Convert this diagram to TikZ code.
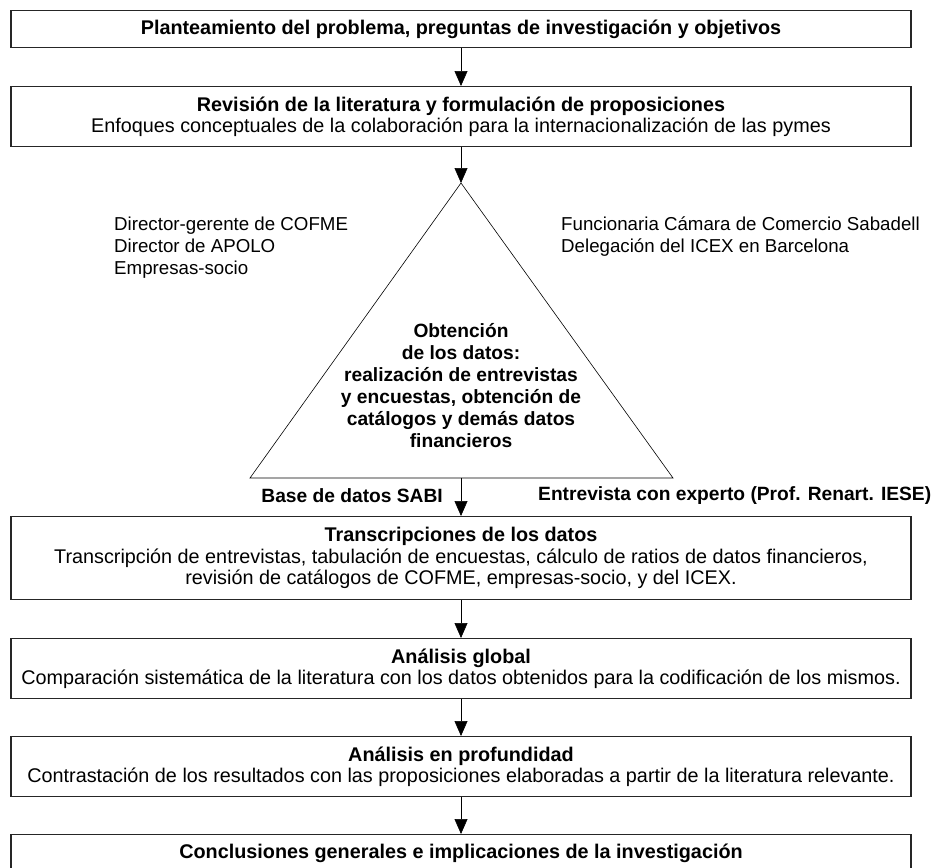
\documentclass[tikz,border=0pt]{standalone}
\usepackage{fontspec}
\setmainfont{Liberation Sans}
\usetikzlibrary{arrows.meta}
\begin{document}
\begin{tikzpicture}[x=1pt,y=-1pt,
  every node/.style={font=\fontsize{19.8}{21.5}\selectfont, inner sep=0pt},
  box/.style={draw=black!85, line width=1.1pt, minimum width=900pt, align=center, anchor=north},
  conn/.style={line width=0.6pt, -{Triangle[length=15pt,width=13pt]}},
  side/.style={align=left, anchor=north west, font=\fontsize{18.7}{22}\selectfont},
  lab/.style={font=\bfseries\fontsize{19.2}{22}\selectfont}]
\useasboundingbox (0,0) rectangle (933,867);
\clip (0,0) rectangle (933,867);
% boxes
\node[box, minimum height=37pt] (b1) at (461,10) {\textbf{Planteamiento del problema, preguntas de investigación y objetivos}};
\node[box, minimum height=60pt] (b2) at (461,86) {\textbf{Revisión de la literatura y formulación de proposiciones}\\Enfoques conceptuales de la colaboración para la internacionalización de las pymes};
\node[box, minimum height=83pt] (b3) at (461,516) {\textbf{Transcripciones de los datos}\\Transcripción de entrevistas, tabulación de encuestas, cálculo de ratios de datos financieros,\\revisión de catálogos de COFME, empresas-socio, y del ICEX.};
\node[box, minimum height=60pt] (b4) at (461,638) {\textbf{Análisis global}\\Comparación sistemática de la literatura con los datos obtenidos para la codificación de los mismos.};
\node[box, minimum height=60pt] (b5) at (461,736) {\textbf{Análisis en profundidad}\\Contrastación de los resultados con las proposiciones elaboradas a partir de la literatura relevante.};
\node[box, minimum height=37pt] (b6) at (461,834) {\textbf{Conclusiones generales e implicaciones de la investigación}};
% triangle
\coordinate (apex) at (461,183);
\coordinate (bl) at (250,478);
\coordinate (br) at (673,478);
\coordinate (bm) at (461,478);
\draw[line width=0.6pt] (apex) -- (bl) -- (br) -- cycle;
\node[align=center, lab] (tri) at (461,386) {Obtención\\de los datos:\\realización de entrevistas\\y encuestas, obtención de\\catálogos y demás datos\\financieros};
% side texts
\node[side] (lt) at (114,217) {Director-gerente de COFME\\Director de APOLO\\Empresas-socio};
\node[side] (rt) at (561,217) {Funcionaria Cámara de Comercio Sabadell\\Delegación del ICEX en Barcelona};
\node[anchor=east, lab] (sabi) at (443,496) {Base de datos SABI};
\node[anchor=west, lab] (exp) at (538,496) {Entrevista con experto (Prof. Renart. IESE)};
% connectors
\draw[conn] (b1.south) -- (b2.north);
\draw[conn] (b2.south) -- (apex);
\draw[conn] (bm) -- (b3.north);
\draw[conn] (b3.south) -- (b4.north);
\draw[conn] (b4.south) -- (b5.north);
\draw[conn] (b5.south) -- (b6.north);
\end{tikzpicture}
\end{document}
